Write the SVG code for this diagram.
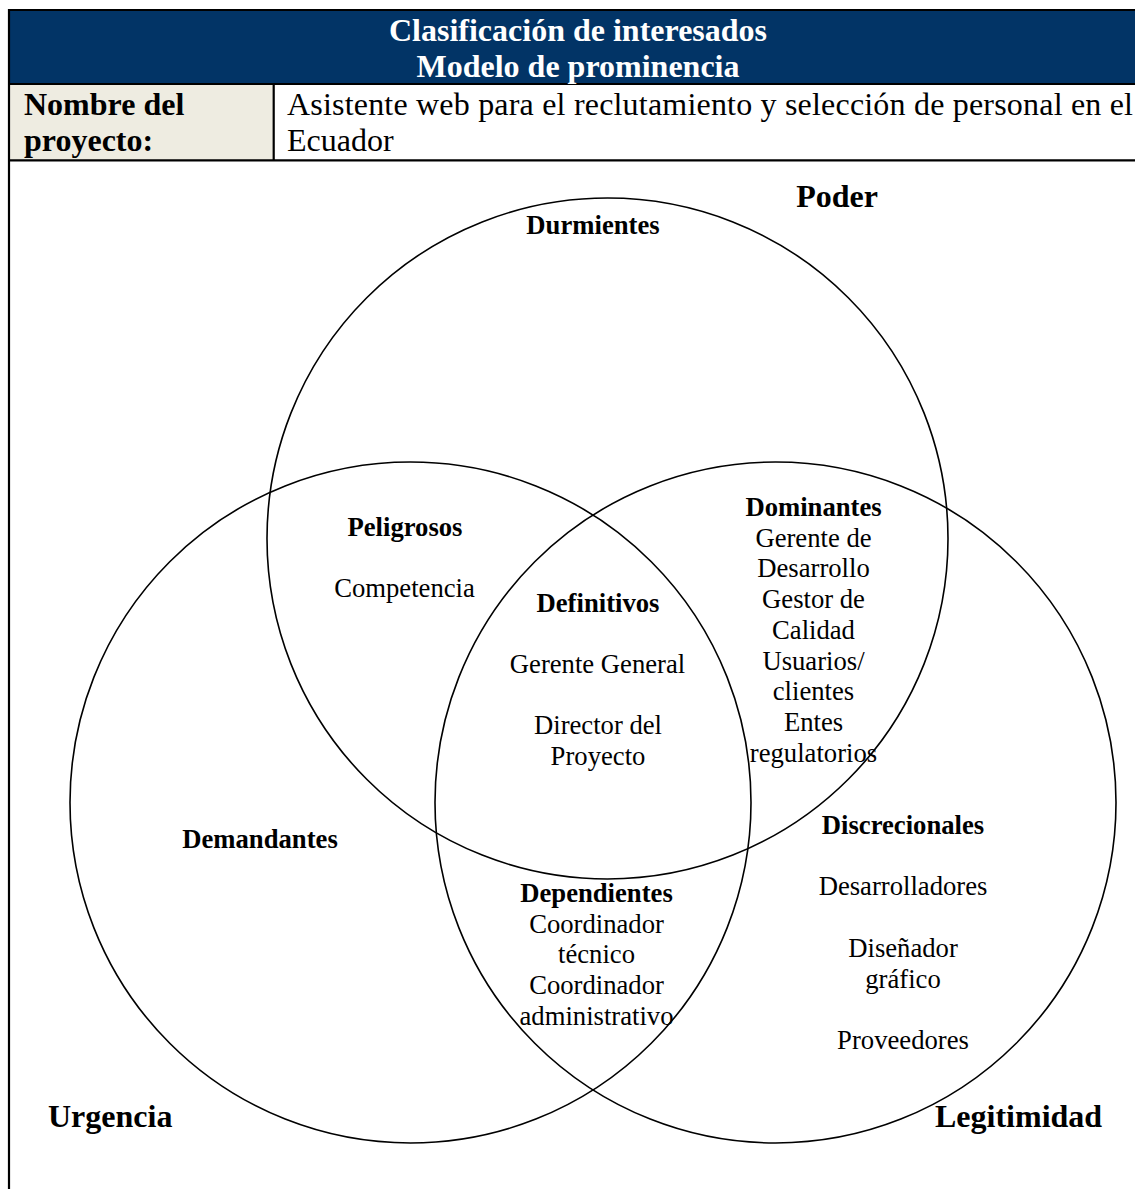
<svg xmlns="http://www.w3.org/2000/svg" width="1135" height="1189" viewBox="0 0 1135 1189">
<style>
.t{font-family:"Liberation Serif","Times New Roman",serif;fill:#000}
.b{font-weight:bold}
.h{font-size:32px}
.c{font-size:26.67px;text-anchor:middle}
.w{fill:#fff}
.circ{fill:none;stroke:#000;stroke-width:1.6}
.ln{stroke:#000;stroke-width:2.2}
</style>
<rect width="1135" height="1189" fill="#fff"/>
<g id="table">
<rect x="9" y="10" width="1126" height="74" fill="#023466"/>
<rect x="9" y="84" width="264" height="76" fill="#EEECE1"/>
<line class="ln" x1="8" y1="10" x2="1135" y2="10"/>
<line class="ln" x1="8" y1="84" x2="1135" y2="84"/>
<line class="ln" x1="8" y1="160.3" x2="1135" y2="160.3"/>
<line class="ln" x1="9" y1="9" x2="9" y2="1189"/>
<line class="ln" x1="273.7" y1="84" x2="273.7" y2="160"/>
<text class="t b h w" x="578" y="41" text-anchor="middle">Clasificación de interesados</text>
<text class="t b h w" x="578" y="77" text-anchor="middle">Modelo de prominencia</text>
<text class="t b h" x="24" y="115">Nombre del</text>
<text class="t b h" x="24" y="151">proyecto:</text>
<text class="t h" x="287" y="115" textLength="846" lengthAdjust="spacing">Asistente web para el reclutamiento y selección de personal en el</text>
<text class="t h" x="287" y="151">Ecuador</text>
</g>
<g id="circles">
<circle id="poder" class="circ" cx="607.5" cy="538.5" r="340.5"/>
<circle id="urgencia" class="circ" cx="410.5" cy="802.5" r="340.5"/>
<circle id="legitimidad" class="circ" cx="775.5" cy="802.5" r="340.5"/>
</g>
<g id="axis-labels">
<text class="t b h" x="837" y="207" text-anchor="middle">Poder</text>
<text class="t b h" x="48" y="1127">Urgencia</text>
<text class="t b h" x="935" y="1127">Legitimidad</text>
</g>
<g id="durmientes"><text class="t b c" x="593" y="234">Durmientes</text></g>
<g id="peligrosos">
<text class="t b c" x="405" y="536">Peligrosos</text>
<text class="t c" x="404.5" y="597">Competencia</text>
</g>
<g id="definitivos">
<text class="t b c" x="598" y="612">Definitivos</text>
<text class="t c" x="597.5" y="673">Gerente General</text>
<text class="t c" x="598" y="734">Director del</text>
<text class="t c" x="598" y="765">Proyecto</text>
</g>
<g id="dominantes">
<text class="t b c" x="813.5" y="516">Dominantes</text>
<text class="t c" x="813.5" y="546.7">Gerente de</text>
<text class="t c" x="813.5" y="577.4">Desarrollo</text>
<text class="t c" x="813.5" y="608.1">Gestor de</text>
<text class="t c" x="813.5" y="638.8">Calidad</text>
<text class="t c" x="813.5" y="669.5">Usuarios/</text>
<text class="t c" x="813.5" y="700.2">clientes</text>
<text class="t c" x="813.5" y="730.9">Entes</text>
<text class="t c" x="813.5" y="761.6">regulatorios</text>
</g>
<g id="demandantes"><text class="t b c" x="260" y="848">Demandantes</text></g>
<g id="dependientes">
<text class="t b c" x="596.5" y="902">Dependientes</text>
<text class="t c" x="596.5" y="932.7">Coordinador</text>
<text class="t c" x="596.5" y="963.4">técnico</text>
<text class="t c" x="596.5" y="994.1">Coordinador</text>
<text class="t c" x="596.5" y="1024.8">administrativo</text>
</g>
<g id="discrecionales">
<text class="t b c" x="903" y="834">Discrecionales</text>
<text class="t c" x="903" y="895">Desarrolladores</text>
<text class="t c" x="903" y="957">Diseñador</text>
<text class="t c" x="903" y="987.7">gráfico</text>
<text class="t c" x="903" y="1049">Proveedores</text>
</g>
</svg>
